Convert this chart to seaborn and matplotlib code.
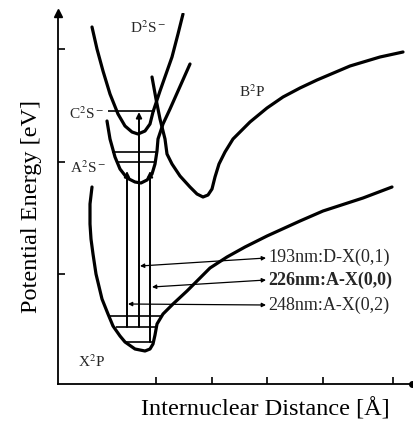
import matplotlib
matplotlib.use("Agg")
import matplotlib.pyplot as plt
import seaborn as sns

# potential curves (arbitrary units, origin at the axes corner)
x_r = [34, 32, 32, 33, 35, 38, 44, 50, 55, 62, 67, 77, 87, 92, 95, 97, 99, 105, 115, 129,
       142, 152, 169, 187, 209, 242, 265, 305, 334]
x_e = [197, 180, 160, 145, 130, 110, 85, 70, 58, 48, 42, 35, 33, 35, 40, 49, 60, 70, 80, 93,
       106, 116, 127, 137, 148, 163, 173, 186, 197]

a_r = [49, 52, 57, 62, 69, 77, 83, 89, 94, 97, 99, 100, 105, 112, 120, 132]
a_e = [263, 245, 227, 215, 206, 202, 201, 204, 210, 220, 233, 245, 260, 275, 293, 320]

d_r = [34, 39, 45, 52, 60, 67, 74, 80, 87, 92, 95, 102, 108, 114, 120, 125]
d_e = [357, 335, 313, 290, 270, 258, 252, 250, 253, 260, 272, 293, 310, 327, 350, 370]

b_r = [94, 98, 102, 107, 109, 114, 122, 132, 139, 145, 150, 154, 157, 161, 167, 175, 192,
       209, 225, 242, 259, 292, 322, 345]
b_e = [307, 285, 265, 245, 230, 220, 208, 197, 190, 187, 189, 195, 207, 220, 232, 245, 262,
       276, 287, 296, 304, 318, 327, 332]

# vibrational levels: energy, left end, right end
lev_e = [273, 232, 222, 68, 57, 42]
lev_lo = [50, 54, 58, 52, 58, 67]
lev_hi = [97, 100, 98, 104, 99, 95]

# vertical transitions
tr_r = [69, 81, 92]
tr_lo = [57, 57, 42]
tr_hi = [213, 272, 213]

# wavelength labels and their pointers
lbl_text = ["193nm:D-X(0,1)", "226nm:A-X(0,0)", "248nm:A-X(0,2)"]
lbl_bold = [False, True, False]
lbl_tip_r = [82, 94, 70]
lbl_tip_e = [118, 97, 80]
lbl_end_r = [208, 208, 208]
lbl_end_e = [126, 104, 79]
lbl_txt_e = [128, 105, 80]

# state names
st_text = ["D$^2$S$^-$", "C$^2$S$^-$", "A$^2$S$^-$", "B$^2$P", "X$^2$P"]
st_r = [90, 29, 30, 194, 34]
st_e = [357, 271, 217, 293, 23]

x_ticks = [98, 154, 209, 265, 335]
y_ticks = [110, 222, 335]

sns.set_theme(style="white")
plt.rcParams["font.family"] = ["Liberation Serif", "DejaVu Serif"]
plt.rcParams["mathtext.fontset"] = "stix"

fig = plt.figure(figsize=(4.14, 4.27), dpi=100)
ax = fig.add_axes([58 / 414, 42 / 427, 354 / 414, 371 / 427])

for r, e in [(x_r, x_e), (a_r, a_e), (d_r, d_e), (b_r, b_e)]:
    sns.lineplot(x=r, y=e, ax=ax, sort=False, estimator=None, color="black", lw=2.3)

ax.hlines(lev_e, lev_lo, lev_hi, color="black", lw=1.2)

for r, lo, hi in zip(tr_r, tr_lo, tr_hi):
    ax.annotate("", xy=(r, hi), xytext=(r, lo),
                arrowprops=dict(arrowstyle="-|>", color="black", lw=1.4,
                                mutation_scale=8, shrinkA=0, shrinkB=0))

for i in range(len(lbl_text)):
    ax.annotate("", xy=(lbl_tip_r[i], lbl_tip_e[i]), xytext=(lbl_end_r[i], lbl_end_e[i]),
                arrowprops=dict(arrowstyle="<|-|>", color="black", lw=0.9,
                                mutation_scale=6, shrinkA=0, shrinkB=0))
    ax.text(lbl_end_r[i] + 2, lbl_txt_e[i], lbl_text[i], fontsize=13,
            fontweight="bold" if lbl_bold[i] else "normal", va="center", ha="left")

for t, r, e in zip(st_text, st_r, st_e):
    ax.text(r, e, t, fontsize=11, ha="center", va="center")

ax.set_xlim(0, 354)
ax.set_ylim(0, 371)
ax.set_xticks(x_ticks)
ax.set_yticks(y_ticks)
ax.set_xticklabels([])
ax.set_yticklabels([])
ax.tick_params(direction="in", length=5, width=1.2, color="black",
               bottom=True, left=True)
for side in ["top", "right"]:
    ax.spines[side].set_visible(False)
for side in ["left", "bottom"]:
    ax.spines[side].set_color("black")
    ax.spines[side].set_linewidth(1.3)

# arrow tip on the energy axis, dot at the end of the distance axis
ax.plot([0], [1], marker="^", ms=6, color="black", transform=ax.transAxes, clip_on=False)
ax.plot([1], [0], marker="o", ms=4, color="black", transform=ax.transAxes, clip_on=False)

ax.set_xlabel("Internuclear Distance [Å]", fontsize=17.5, color="black")
ax.set_ylabel("Potential Energy [eV]", fontsize=17.5, color="black")
ax.xaxis.set_label_coords(0.585, -0.035)
ax.yaxis.set_label_coords(-0.045, 0.482)

fig.savefig("out.png", dpi=100)
